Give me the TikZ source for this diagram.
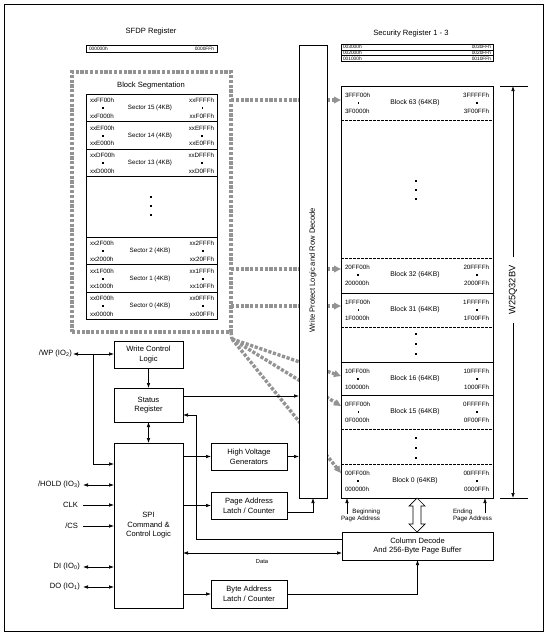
\documentclass[tikz,border=0pt]{standalone}
\usepackage{fontspec}
\setmainfont{Liberation Sans}
\usetikzlibrary{arrows.meta}
\begin{document}
\begin{tikzpicture}[x=1pt,y=-1pt,
  every node/.style={inner sep=0pt, outer sep=0pt},
  box/.style={draw, line width=0.7pt, fill=white, align=center, font=\fontsize{7.6}{9.6}\selectfont},
  lbl/.style={font=\fontsize{7.6}{9.6}\selectfont},
  tiny/.style={font=\fontsize{6.2}{7.4}\selectfont},
  micro/.style={font=\fontsize{4.8}{5}\selectfont},
  ln/.style={line width=0.7pt},
  arr/.style={ln, -{Latex[length=5pt,width=3.6pt]}},
  darr/.style={ln, {Latex[length=5pt,width=3.6pt]}-{Latex[length=5pt,width=3.6pt]}},
  gdot/.style={draw=gray!85, line width=3.4pt, dash pattern=on 3.2pt off 1.6pt},
  garr/.style={gdot, -{Triangle[length=7pt,width=6.5pt]}},
  dsh/.style={line width=0.6pt, dash pattern=on 2.5pt off 1.5pt},
]
\useasboundingbox (0,0) rectangle (547,635);
\draw[line width=0.6pt] (4,4) rectangle (543,631);

% ---------- SFDP register ----------
\node[lbl] (sfdpt) at (151,32) {SFDP Register};
\node[draw, ln, minimum width=131pt, minimum height=7pt] (sfdp) at (151.5,49) {};
\node[micro, anchor=west] (sfdpa) at (89,49) {000000h};
\node[micro, anchor=east] (sfdpb) at (214,49) {0000FFh};

% ---------- Block segmentation ----------
\node[gdot, minimum width=159pt, minimum height=260pt] (segf) at (151.5,202) {};
\node[lbl] (segt) at (151,86) {Block Segmentation};
\node[draw, ln, fill=white, minimum width=131pt, minimum height=225.5pt] (seg) at (151.5,206.75) {};
\foreach \y in {121.5,149,176.5,237,264.5,292} \draw[ln] (86,\y) -- (217,\y);
\foreach \t/\a/\b/\c/\d/\s [count=\i] in {
  94/xxFF00h/xxFFFFh/xxF000h/xxF0FFh/15,
  121.5/xxEF00h/xxEFFFh/xxE000h/xxE0FFh/14,
  149/xxDF00h/xxDFFFh/xxD000h/xxD0FFh/13,
  237/xx2F00h/xx2FFFh/xx2000h/xx20FFh/2,
  264.5/xx1F00h/xx1FFFh/xx1000h/xx10FFh/1,
  292/xx0F00h/xx0FFFh/xx0000h/xx00FFh/0}{
  \node[tiny, anchor=west] (sa\i) at (90,\t+6.5) {\a};
  \node[tiny, anchor=east] (sb\i) at (214,\t+6.5) {\b};
  \node[tiny, anchor=west] (sc\i) at (90,\t+22) {\c};
  \node[tiny, anchor=east] (sd\i) at (214,\t+22) {\d};
  \node[tiny] (ss\i) at (150,\t+14) {Sector \s\ (4KB)};
  \fill (sa\i.south |- 0,\t+13.2) rectangle ++(1.8,1.8);
  \fill (sb\i.south |- 0,\t+13.2) rectangle ++(1.8,1.8);
}
\foreach \y in {196,205,214} \fill (150,\y) rectangle ++(2,2);

% ---------- Security registers ----------
\node[lbl] (sect) at (411,34) {Security Register 1 - 3};
\draw[ln] (341,44) rectangle (493,61);
\draw[ln] (341,50) -- (493,50);
\draw[ln] (341,55.5) -- (493,55.5);
\foreach \t/\a/\b [count=\i] in {47/003000h/0030FFh, 52.8/002000h/0020FFh, 58.3/001000h/0010FFh}{
  \node[micro, anchor=west] (ra\i) at (343,\t) {\a};
  \node[micro, anchor=east] (rb\i) at (491,\t) {\b};
}

% ---------- Memory array ----------
\node[draw, ln, minimum width=152pt, minimum height=412pt] (mem) at (417,292) {};
\foreach \y in {293,362,395} \draw[ln] (341,\y) -- (493,\y);
\foreach \y in {120,258,327,429,464} \draw[dsh] (341,\y) -- (493,\y);
\foreach \t/\a/\b/\c/\d/\s [count=\i] in {
  86/3FFF00h/3FFFFFh/3F0000h/3F00FFh/63,
  258/20FF00h/20FFFFh/200000h/2000FFh/32,
  293/1FFF00h/1FFFFFh/1F0000h/1F00FFh/31,
  362/10FF00h/10FFFFh/100000h/1000FFh/16,
  395/0FFF00h/0FFFFFh/0F0000h/0F00FFh/15,
  464/00FF00h/00FFFFh/000000h/0000FFh/0}{
  \node[tiny, anchor=west] (ba\i) at (345,\t+9) {\a};
  \node[tiny, anchor=east] (bb\i) at (489,\t+9) {\b};
  \node[tiny, anchor=west] (bc\i) at (345,\t+25) {\c};
  \node[tiny, anchor=east] (bd\i) at (489,\t+25) {\d};
  \node[font=\fontsize{6.8}{8}\selectfont] (bs\i) at (415,\t+17) {Block \s\ (64KB)};
  \fill (ba\i.south |- 0,\t+16) rectangle ++(1.8,1.8);
  \fill (bb\i.south |- 0,\t+16) rectangle ++(1.8,1.8);
}
\foreach \y in {180,189,198} \fill (415,\y) rectangle ++(2,2);
\foreach \y in {333,343,353} \fill (415,\y) rectangle ++(2,2);
\foreach \y in {437,447,457} \fill (415,\y) rectangle ++(2,2);

% ---------- grey dotted arrows (behind the row decode box) ----------
\coordinate (gc) at (232,339);
\draw[gdot] (segf.south east) -- (gc);
\draw[garr] (segf.east |- 0,100) -- (mem.west |- 0,100);
\draw[garr] (segf.east |- 0,269) -- (mem.west |- 0,269);
\draw[garr] (segf.east |- 0,306) -- (mem.west |- 0,306);
\draw[garr] (gc) -- (mem.west |- 0,376);
\draw[garr] (gc) -- (mem.west |- 0,406);
\draw[garr] (gc) -- (mem.west |- 0,473);

% ---------- Write protect / row decode ----------
\node[box, minimum width=28pt, minimum height=453pt] (wp) at (313,271.5) {};
\node[lbl, rotate=90] (wpt) at (313,270) {Write Protect Logic and Row Decode};

% ---------- Device label ----------
\node[font=\fontsize{9.3}{10}\selectfont, rotate=90] (dev) at (513,290) {W25Q32BV};
\coordinate (vt) at (513,86);
\coordinate (vb) at (513,498);
\draw[ln] (500,86) -- (528,86);
\draw[ln] (500,498) -- (528,498);
\draw[arr] ([yshift=8pt]dev.east) -- (vt);
\draw[arr] ([yshift=-8pt]dev.west) -- (vb);

% ---------- Control blocks ----------
\node[box, minimum width=69pt, minimum height=27pt] (wcl) at (148.5,354.5) {Write Control\\Logic};
\node[box, minimum width=69pt, minimum height=34pt] (sr) at (148.5,405) {Status\\Register};
\node[box, minimum width=69pt, minimum height=165pt] (spi) at (148.5,525.5) {SPI\\Command \&\\Control Logic};
\node[box, minimum width=76pt, minimum height=27pt] (hv) at (249,456.5) {High Voltage\\Generators};
\node[box, minimum width=76pt, minimum height=27pt] (pal) at (249,505.5) {Page Address\\Latch / Counter};
\node[box, minimum width=76pt, minimum height=28pt] (bal) at (249,594) {Byte Address\\Latch / Counter};
\node[box, minimum width=151pt, minimum height=28pt] (cd) at (417.5,546) {Column Decode\\And 256-Byte Page Buffer};

% ---------- Pins ----------
\node[lbl, anchor=east] (pwp) at (72,354) {/WP (IO\textsubscript{2})};
\node[lbl, anchor=east] (phold) at (80,485) {/HOLD (IO\textsubscript{3})};
\node[lbl, anchor=east] (pclk) at (78,505) {CLK};
\node[lbl, anchor=east] (pcs) at (78,526) {/CS};
\node[lbl, anchor=east] (pdi) at (80,567) {DI (IO\textsubscript{0})};
\node[lbl, anchor=east] (pdo) at (80,587) {DO (IO\textsubscript{1})};

\coordinate (wpj) at (93,354);
\draw[darr] ([xshift=1pt]pwp.east) -- (pwp.east -| wcl.west);
\draw[arr] (wpj) |- (spi.west |- 0,464);
\draw[darr] ([xshift=3pt]phold.east) -- (phold.east -| spi.west);
\draw[arr] ([xshift=5pt]pclk.east) -- (pclk.east -| spi.west);
\draw[arr] ([xshift=5pt]pcs.east) -- (pcs.east -| spi.west);
\draw[darr] ([xshift=3pt]pdi.east) -- (pdi.east -| spi.west);
\draw[darr] ([xshift=3pt]pdo.east) -- (pdo.east -| spi.west);

% ---------- Internal connectors ----------
\draw[arr] (wcl) -- (sr);
\draw[darr] (sr) -- (spi);
\draw[arr] (sr.east |- 0,396) -- (wp.west |- 0,396);
\draw[arr] (cd.west |- 0,539) -- (196,539) -- (196,415) -- (sr.east |- 0,415);
\draw[arr] (spi.east |- hv.west) -- (hv.west);
\draw[arr] (hv.east) -- (hv.east -| wp.west);
\draw[arr] (spi.east |- pal.west) -- (pal.west);
\draw[arr] (pal.east |- 0,512) -| (wp.south);
\draw[arr] (spi.east |- bal.west) -- (bal.west);
\draw[arr] (bal.east) -| (cd.south);
\draw[darr] (spi.east |- 0,553) -- (cd.west |- 0,553);
\node[font=\fontsize{5.8}{6}\selectfont] (data) at (262,562) {Data};

% hollow double arrow between array and column decode
\draw[ln, fill=white] (mem.south -| 417,0) -- ++(8,8) -- ++(-4,0) -- ++(0,18) -- ++(4,0)
  -- ++(-8,8) -- ++(-8,-8) -- ++(4,0) -- ++(0,-18) -- ++(-4,0) -- cycle;

% page address arrows
\coordinate (bpa) at (347,514);
\coordinate (epa) at (485,513);
\draw[arr] (bpa) -- (bpa |- mem.south);
\draw[arr] (epa) -- (epa |- mem.south);
\node[tiny, anchor=east, align=right] (bpl) at (380,515.5) {Beginning\\Page Address};
\node[tiny, anchor=west, align=left] (epl) at (453,515.5) {Ending\\Page Address};
\end{tikzpicture}
\end{document}
